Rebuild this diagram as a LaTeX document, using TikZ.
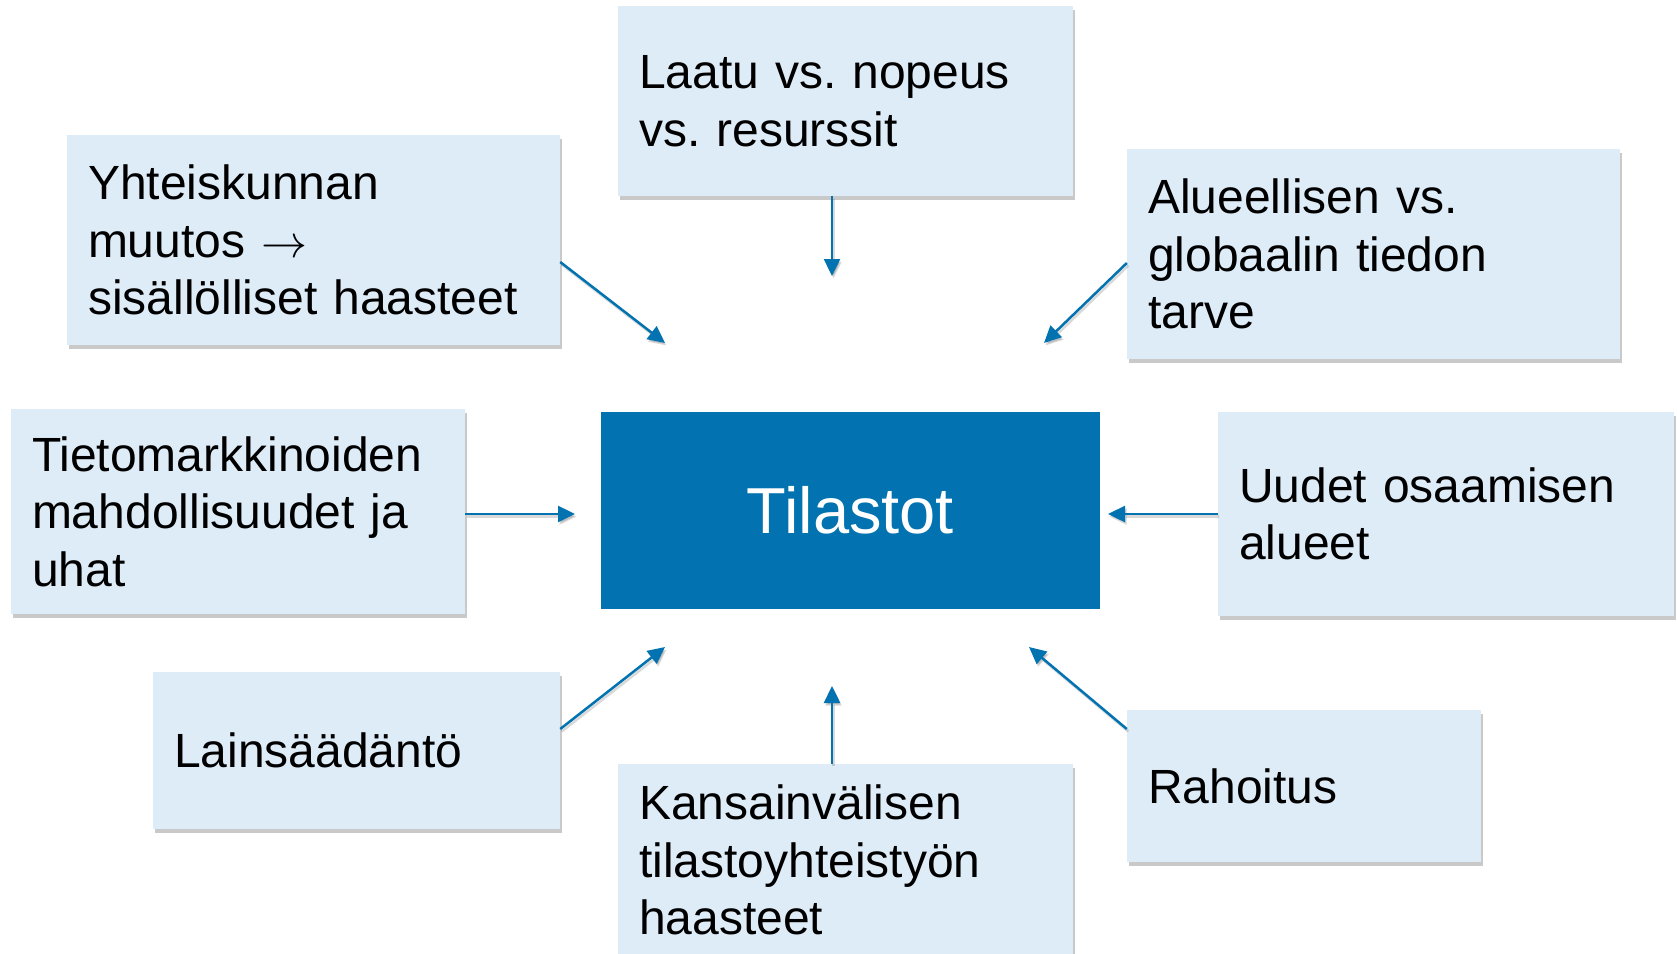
\documentclass[tikz,border=0pt]{standalone}
\usepackage{fontspec}
\usepackage{graphicx}
\setmainfont{Liberation Sans}
\usetikzlibrary{arrows.meta,shadows}
\definecolor{boxfill}{RGB}{222,236,248}
\definecolor{mainblue}{RGB}{2,115,176}
\newcommand{\bigarrowsym}{{\fontsize{10pt}{12pt}\selectfont\scalebox{4.6}{$\rightarrow$}}}
\tikzset{
  sidebox/.style={rectangle, fill=boxfill, draw=none, inner xsep=21pt, inner ysep=0pt,
    align=left, anchor=center,
    font=\fontsize{48pt}{57.5pt}\selectfont\frenchspacing,
    drop shadow={shadow xshift=2pt, shadow yshift=-4pt, opacity=0.3, fill=black!70}},
  centerbox/.style={rectangle, fill=mainblue, draw=none, text=white, anchor=center,
    font=\fontsize{65pt}{78pt}\selectfont},
  conn/.style={draw=mainblue, line width=2.5pt,
    -{Triangle[length=17pt,width=16pt]},
    preaction={draw=black, opacity=0.15, line width=2.5pt, transform canvas={shift={(1.5pt,-2.5pt)}}}}
}
\begin{document}
\begin{tikzpicture}[x=1pt,y=-1pt]
\useasboundingbox (0,0) rectangle (1677,953);
% boxes
\node[sidebox, minimum width=455pt, minimum height=190pt, text width=413pt] (laatu) at (845.5,101) {Laatu vs. nopeus\\vs. resurssit};
\node[sidebox, minimum width=493pt, minimum height=210pt, text width=451pt] (yht) at (313.5,240) {Yhteiskunnan\\muutos \bigarrowsym\\sisällölliset haasteet};
\node[sidebox, minimum width=493pt, minimum height=210pt, text width=451pt] (alu) at (1373.5,254) {Alueellisen vs.\\globaalin tiedon\\tarve};
\node[sidebox, minimum width=454pt, minimum height=205pt, text width=412pt] (tieto) at (238,511.5) {Tietomarkkinoiden\\mahdollisuudet ja\\uhat};
\node[centerbox, minimum width=499pt, minimum height=197pt] (tilastot) at (850.5,510.5) {Tilastot};
\node[sidebox, minimum width=456pt, minimum height=204pt, text width=414pt] (uud) at (1446,514) {Uudet osaamisen\\alueet};
\node[sidebox, minimum width=407pt, minimum height=157pt, text width=365pt] (lain) at (356.5,750.5) {Lainsäädäntö};
\node[sidebox, minimum width=455pt, minimum height=192pt, text width=413pt] (kans) at (845.5,860) {Kansainvälisen\\tilastoyhteistyön\\haasteet};
\node[sidebox, minimum width=354pt, minimum height=152pt, text width=312pt] (rah) at (1304,786) {Rahoitus};
% arrow tips
\coordinate (t1) at (832,276);
\coordinate (t2) at (665,343);
\coordinate (t3) at (1044,343);
\coordinate (t4) at (575,514);
\coordinate (t5) at (1108,514);
\coordinate (t6) at (665,647);
\coordinate (t7) at (832,686);
\coordinate (t8) at (1029,647);
% connectors
\draw[conn] ([xshift=-13.5pt]laatu.south) -- (t1);
\draw[conn] ([yshift=-22pt]yht.east) -- (t2);
\draw[conn] ([yshift=-9pt]alu.west) -- (t3);
\draw[conn] ([yshift=-2.5pt]tieto.east) -- (t4);
\draw[conn] (uud.west) -- (t5);
\draw[conn] ([yshift=21.5pt]lain.east) -- (t6);
\draw[conn] ([xshift=-13.5pt]kans.north) -- (t7);
\draw[conn] ([yshift=57pt]rah.west) -- (t8);
\end{tikzpicture}
\end{document}
